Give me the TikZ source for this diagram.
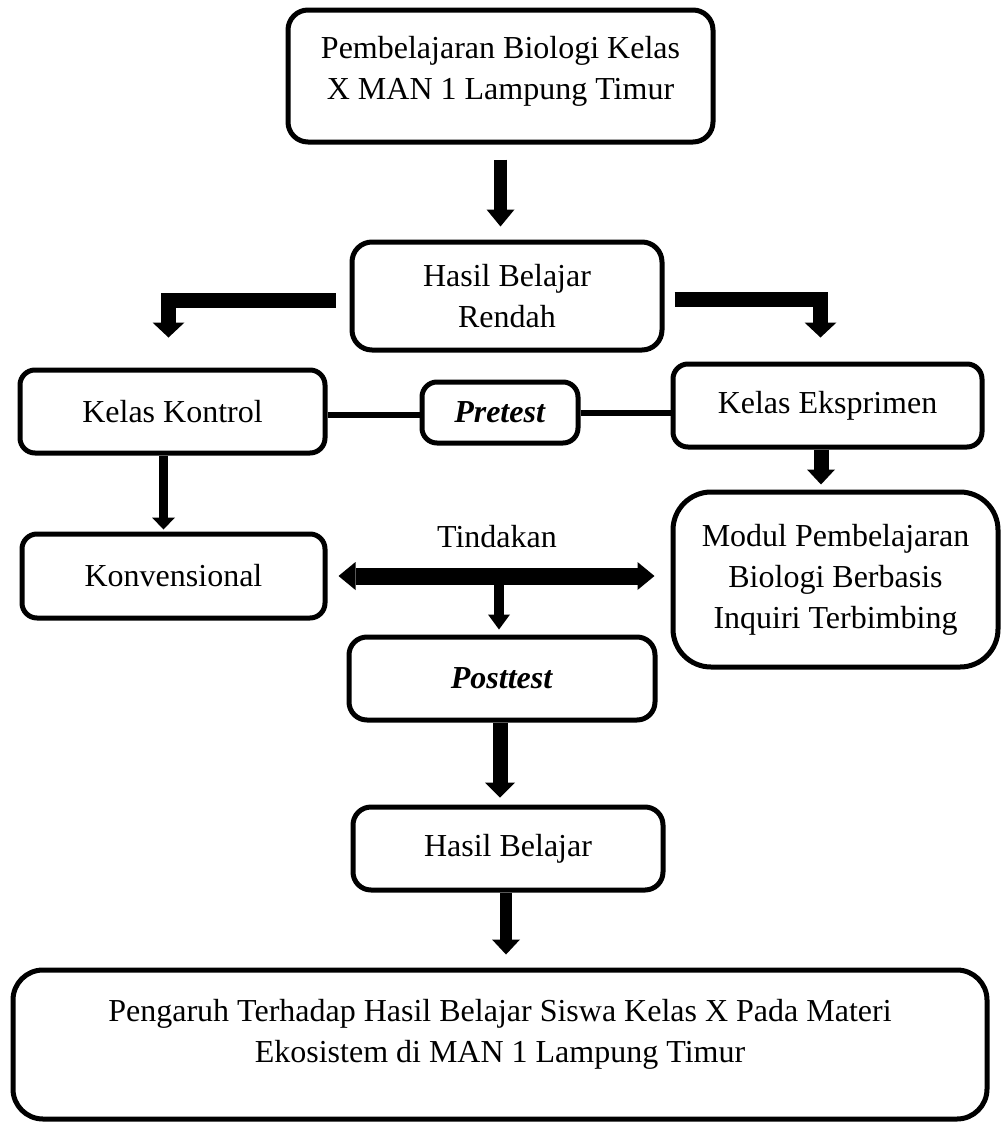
\documentclass[tikz,border=0pt]{standalone}
\usepackage{fontspec}
\setmainfont{Liberation Serif}
\usetikzlibrary{arrows.meta,calc}
\begin{document}
\begin{tikzpicture}[x=1pt,y=-1pt,
  font=\fontsize{32}{41}\selectfont,
  box/.style={draw, line width=5pt, rounded corners=#1, align=center, inner sep=0pt},
  box/.default=15pt,
  txt/.style={align=center, inner sep=0pt},
  fat/.style n args={3}{line width=#1, line join=miter, -{Triangle[width=#2,length=#3,line width=0pt]}},
  dblfat/.style n args={3}{line width=#1, {Triangle[width=#2,length=#3,line width=0pt]}-{Triangle[width=#2,length=#3,line width=0pt]}},
  conn/.style={line width=6pt}]
\useasboundingbox (0,0) rectangle (1003,1122);

% boxes
\node[box=20pt, minimum width=425pt, minimum height=132pt] (top) at (500.5,76) {};
\node[txt] (topT) at (500.5,71) {Pembelajaran Biologi Kelas\\X MAN 1 Lampung Timur};
\node[box=20pt, minimum width=310pt, minimum height=108pt] (hbr) at (507,296) {Hasil Belajar\\Rendah};
\node[box=15pt, minimum width=305pt, minimum height=83pt] (kk) at (172.5,411.5) {Kelas Kontrol};
\node[box=15pt, minimum width=156pt, minimum height=61pt] (pre) at (500,412.5) {\textbf{\textit{Pretest}}};
\node[box=15pt, minimum width=309pt, minimum height=83pt] (ke) at (827.5,405.5) {Kelas Eksprimen};
\node[box=15pt, minimum width=303pt, minimum height=84pt] (konv) at (173.5,576) {Konvensional};
\node[box=38pt, minimum width=325pt, minimum height=175pt] (modul) at (835.5,579.5) {Modul Pembelajaran\\Biologi Berbasis\\Inquiri Terbimbing};
\node[box=18pt, minimum width=306pt, minimum height=83pt] (post) at (502,678.5) {\textbf{\textit{Posttest}}};
\node[box=18pt, minimum width=310pt, minimum height=83pt] (hb) at (508,848.5) {Hasil Belajar};
\node[box=30pt, minimum width=974pt, minimum height=149pt] (fin) at (500,1044.5) {};
\node[txt] (finT) at (500,1034) {Pengaruh Terhadap Hasil Belajar Siswa Kelas X Pada Materi\\Ekosistem di MAN 1 Lampung Timur};
\node[txt] (tind) at (497,537) {Tindakan};

% arrows
\draw[fat={13pt}{28pt}{17pt}] ($(top.south)+(0,15)$) -- ($(top.south |- hbr.north)+(0,-13)$);
\draw[fat={15pt}{32pt}{15pt}] ($(hbr.west)+(-14,4)$) -| ($(kk.north)+(-4,-30)$);
\draw[fat={15pt}{32pt}{15pt}] ($(hbr.east)+(10,3)$) -| ($(ke.north)+(-7,-24)$);
\draw[conn] ($(kk.east)+(0,3.5)$) -- ($(pre.west)+(0,2.5)$);
\draw[conn] (pre.east) -- (pre.east -| ke.west);
\draw[fat={9pt}{23pt}{12pt}] ($(kk.south)+(-9,0)$) -- ($(kk.south |- konv.north)+(-9,-2)$);
\draw[fat={15pt}{28pt}{15pt}] ($(ke.south)+(-6.5,0)$) -- ($(ke.south |- modul.north)+(-6.5,-5)$);
\draw[dblfat={17pt}{28pt}{17pt}] ($(konv.east)+(11,0)$) -- ($(konv.east -| modul.west)+(-16,0)$);
\coordinate (mid) at ($(konv.east)!0.5!(konv.east -| modul.west)$);
\draw[fat={10pt}{22pt}{15pt}] (mid) -- ($(mid |- post.north)+(0,-5)$);
\draw[fat={15pt}{30pt}{15pt}] ($(post.south)+(-2,0)$) -- ($(post.south |- hb.north)+(-2,-7)$);
\draw[fat={12pt}{28pt}{15pt}] ($(hb.south)+(-2,0)$) -- ($(hb.south |- fin.north)+(-2,-13)$);
\end{tikzpicture}
\end{document}
